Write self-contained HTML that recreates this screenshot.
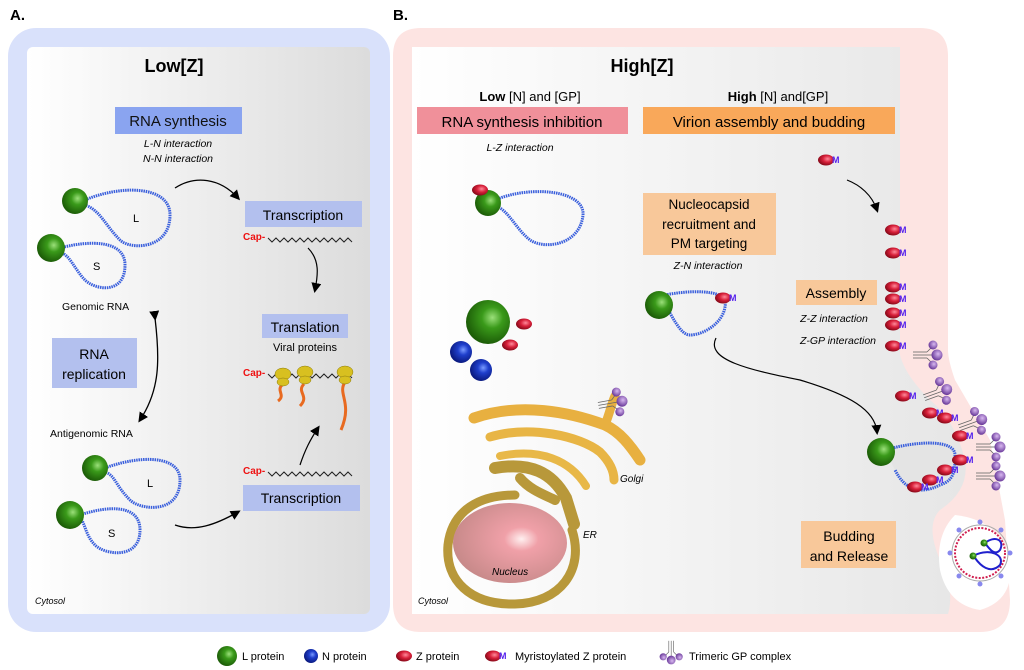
<!DOCTYPE html>
<html><head><meta charset="utf-8"><style>
html,body{margin:0;padding:0;background:#fff}
svg{display:block;font-family:"Liberation Sans",sans-serif}
</style></head><body>
<svg width="1024" height="670" viewBox="0 0 1024 670" xmlns="http://www.w3.org/2000/svg">
<defs>
<linearGradient id="gA" x1="0" x2="1"><stop offset="0" stop-color="#ffffff"/><stop offset="1" stop-color="#dcdcdc"/></linearGradient>
<linearGradient id="gB" x1="0" x2="1"><stop offset="0" stop-color="#ffffff"/><stop offset="1" stop-color="#e6e6e6"/></linearGradient>
<radialGradient id="gG" cx="0.6" cy="0.4" r="0.6"><stop offset="0" stop-color="#9be07a"/><stop offset="0.4" stop-color="#3a9a1a"/><stop offset="1" stop-color="#1d5e08"/></radialGradient>
<radialGradient id="gN" cx="0.6" cy="0.4" r="0.6"><stop offset="0" stop-color="#7a9bff"/><stop offset="0.4" stop-color="#1f3fcc"/><stop offset="1" stop-color="#0a1a80"/></radialGradient>
<radialGradient id="gR" cx="0.6" cy="0.4" r="0.6"><stop offset="0" stop-color="#ff8a9a"/><stop offset="0.5" stop-color="#d8203a"/><stop offset="1" stop-color="#8a0a1a"/></radialGradient>
<radialGradient id="gNuc" cx="0.6" cy="0.45" r="0.6"><stop offset="0" stop-color="#fff0f0"/><stop offset="0.25" stop-color="#f0a0a8"/><stop offset="1" stop-color="#c88a8a"/></radialGradient>
<radialGradient id="gP" cx="0.6" cy="0.4" r="0.6"><stop offset="0" stop-color="#d8b8f0"/><stop offset="1" stop-color="#6a3a9a"/></radialGradient>
<marker id="ar" markerWidth="10" markerHeight="10" refX="7" refY="5" orient="auto" markerUnits="userSpaceOnUse"><path d="M0,0 L10,5 L0,10 z" fill="#000"/></marker>
<g id="z"><ellipse cx="0" cy="0" rx="8" ry="5.5" fill="url(#gR)"/></g>
<g id="zm"><ellipse cx="0" cy="0" rx="8" ry="5.5" fill="url(#gR)"/><text x="6" y="3" font-size="9" font-weight="bold" fill="#5522ee">M</text></g>
<g id="gp"><g stroke="#666" stroke-width="0.8"><line x1="-14" y1="-2" x2="0" y2="-2"/><line x1="-14" y1="1" x2="0" y2="1"/><line x1="-14" y1="4" x2="0" y2="4"/><line x1="0" y1="-2" x2="6" y2="-8"/><line x1="0" y1="1" x2="8" y2="1"/><line x1="0" y1="4" x2="6" y2="10"/></g><circle cx="6" cy="-9" r="4.5" fill="url(#gP)"/><circle cx="10" cy="1" r="5.5" fill="url(#gP)"/><circle cx="6" cy="11" r="4.5" fill="url(#gP)"/></g>
</defs>

<!-- Panel A -->
<text x="10" y="20" font-size="15" font-weight="bold">A.</text>
<rect x="8" y="28" width="382" height="604" rx="28" fill="#d9e1fb"/>
<rect x="27" y="47" width="343" height="567" rx="6" fill="url(#gA)"/>
<text x="174" y="72" font-size="18" font-weight="bold" text-anchor="middle">Low[Z]</text>
<rect x="115" y="107" width="127" height="27" fill="#8aa4f0"/>
<text x="178" y="126" font-size="15" text-anchor="middle" fill="#111">RNA synthesis</text>
<text x="178" y="147" font-size="10.5" font-style="italic" text-anchor="middle">L-N interaction</text>
<text x="178" y="162" font-size="10.5" font-style="italic" text-anchor="middle">N-N interaction</text>

<g fill="none" stroke="#3a5fdc" stroke-width="3" stroke-dasharray="1.5 0.8">
<path d="M85,200 C120,185 170,185 170,215 C170,250 130,250 120,240 C105,225 100,210 85,205"/>
<path d="M60,248 C90,240 125,240 125,265 C125,295 95,290 85,280 C75,270 70,255 60,252"/>
<path d="M105,468 C140,455 180,455 180,480 C180,515 140,510 130,500 C115,485 115,475 105,472"/>
<path d="M80,515 C110,505 140,505 140,530 C140,560 105,555 95,545 C85,535 85,522 80,518"/>
</g>
<circle cx="75" cy="201" r="13" fill="url(#gG)"/>
<circle cx="51" cy="248" r="14" fill="url(#gG)"/>
<circle cx="95" cy="468" r="13" fill="url(#gG)"/>
<circle cx="70" cy="515" r="14" fill="url(#gG)"/>
<text x="133" y="222" font-size="11">L</text>
<text x="93" y="270" font-size="11">S</text>
<text x="147" y="487" font-size="11">L</text>
<text x="108" y="537" font-size="11">S</text>
<text x="62" y="310" font-size="10.5">Genomic RNA</text>
<text x="50" y="437" font-size="10.5">Antigenomic RNA</text>
<rect x="52" y="338" width="85" height="50" fill="#b3c0ee"/>
<text x="94" y="359" font-size="14" text-anchor="middle">RNA</text>
<text x="94" y="379" font-size="14" text-anchor="middle">replication</text>
<path d="M155,318 C160,360 160,390 140,420" fill="none" stroke="#000" stroke-width="1.3" marker-end="url(#ar)" marker-start="url(#ar)"/>

<path d="M175,188 C195,175 220,178 238,198" fill="none" stroke="#000" stroke-width="1.3" marker-end="url(#ar)"/>
<rect x="245" y="201" width="117" height="26" fill="#b3c0ee"/>
<text x="303" y="220" font-size="14" text-anchor="middle">Transcription</text>
<text x="243" y="240" font-size="10" font-weight="bold" fill="#ee1111">Cap-</text>
<path d="M268,238 l4,4 l4,-4 l4,4 l4,-4 l4,4 l4,-4 l4,4 l4,-4 l4,4 l4,-4 l4,4 l4,-4 l4,4 l4,-4 l4,4 l4,-4 l4,4 l4,-4 l4,4 l4,-4 l4,4" fill="none" stroke="#222" stroke-width="1"/>
<path d="M308,248 C320,260 318,275 315,290" fill="none" stroke="#000" stroke-width="1.2" marker-end="url(#ar)"/>
<rect x="262" y="314" width="86" height="24" fill="#b3c0ee"/>
<text x="305" y="332" font-size="14" text-anchor="middle">Translation</text>
<text x="305" y="351" font-size="11" text-anchor="middle">Viral proteins</text>
<text x="243" y="376" font-size="10" font-weight="bold" fill="#ee1111">Cap-</text>
<path d="M268,374 l4,4 l4,-4 l4,4 l4,-4 l4,4 l4,-4 l4,4 l4,-4 l4,4 l4,-4 l4,4 l4,-4 l4,4 l4,-4 l4,4 l4,-4 l4,4 l4,-4 l4,4 l4,-4 l4,4" fill="none" stroke="#222" stroke-width="1"/>
<g fill="none" stroke="#e86a20" stroke-width="3"><path d="M282,385 c-6,6 4,10 -4,16"/><path d="M304,384 c-8,8 6,12 -4,22"/><path d="M345,382 c-8,12 8,20 -4,48"/></g>
<g fill="#d8c020" stroke="#8a7a10" stroke-width="0.5"><ellipse cx="283" cy="374" rx="8" ry="6"/><ellipse cx="305" cy="372" rx="8" ry="6"/><ellipse cx="345" cy="372" rx="8" ry="6"/><ellipse cx="283" cy="382" rx="6" ry="4"/><ellipse cx="305" cy="380" rx="6" ry="4"/><ellipse cx="345" cy="380" rx="6" ry="4"/></g>
<text x="243" y="474" font-size="10" font-weight="bold" fill="#ee1111">Cap-</text>
<path d="M268,472 l4,4 l4,-4 l4,4 l4,-4 l4,4 l4,-4 l4,4 l4,-4 l4,4 l4,-4 l4,4 l4,-4 l4,4 l4,-4 l4,4 l4,-4 l4,4 l4,-4 l4,4 l4,-4 l4,4" fill="none" stroke="#222" stroke-width="1"/>
<path d="M300,465 C305,450 310,440 318,428" fill="none" stroke="#000" stroke-width="1.2" marker-end="url(#ar)"/>
<path d="M175,525 C195,532 215,525 238,512" fill="none" stroke="#000" stroke-width="1.3" marker-end="url(#ar)"/>
<rect x="243" y="485" width="117" height="26" fill="#b3c0ee"/>
<text x="301" y="503" font-size="14" text-anchor="middle">Transcription</text>
<text x="35" y="604" font-size="9" font-style="italic">Cytosol</text>

<!-- Panel B -->
<text x="393" y="20" font-size="15" font-weight="bold">B.</text>
<path d="M421,28 H920 Q948,28 948,56 V350 Q948,360 955,380 L990,440 L1005,520 L1010,600 Q1010,632 980,632 H421 Q393,632 393,604 V56 Q393,28 421,28 Z" fill="#fde4e2"/>
<path d="M412,47 H900 V355 Q905,375 930,400 Q955,420 965,460 Q970,490 940,510 Q925,525 940,560 Q955,590 948,614 H412 Z" fill="url(#gB)"/>
<path d="M955,515 Q1000,520 1010,560 Q1015,600 980,610 Q948,605 940,570 Q935,535 955,515 Z" fill="#fff"/>
<text x="642" y="72" font-size="18" font-weight="bold" text-anchor="middle">High[Z]</text>
<text x="530" y="101" font-size="13" text-anchor="middle"><tspan font-weight="bold">Low</tspan> [N] and [GP]</text>
<rect x="417" y="107" width="211" height="27" fill="#f0909a"/>
<text x="522" y="127" font-size="15" text-anchor="middle">RNA synthesis inhibition</text>
<text x="520" y="151" font-size="10.5" font-style="italic" text-anchor="middle">L-Z interaction</text>
<text x="778" y="101" font-size="13" text-anchor="middle"><tspan font-weight="bold">High</tspan> [N] and[GP]</text>
<rect x="643" y="107" width="252" height="27" fill="#f9a85a"/>
<text x="769" y="127" font-size="15" text-anchor="middle">Virion assembly and budding</text>

<path d="M495,200 C530,185 585,190 583,215 C580,245 545,250 530,240 C515,228 510,212 495,205" fill="none" stroke="#3a5fdc" stroke-width="3" stroke-dasharray="1.5 0.8"/>
<circle cx="488" cy="203" r="13" fill="url(#gG)"/>
<use href="#z" x="480" y="190"/>
<circle cx="488" cy="322" r="22" fill="url(#gG)"/>
<use href="#z" x="524" y="324"/><use href="#z" x="510" y="345"/>
<circle cx="461" cy="352" r="11" fill="url(#gN)"/>
<circle cx="481" cy="370" r="11" fill="url(#gN)"/>

<!-- Golgi/ER -->
<g fill="none" stroke-linecap="round">
<path d="M474,418 C520,402 570,412 605,425 C620,432 630,445 640,460" stroke="#e8b040" stroke-width="11"/>
<path d="M605,425 C610,412 612,402 615,396" stroke="#e8b040" stroke-width="9"/>
<path d="M490,437 C530,425 580,436 600,452 C610,462 614,472 614,480" stroke="#e8b545" stroke-width="9"/>
<path d="M500,456 C540,448 570,460 586,486" stroke="#e8b848" stroke-width="8"/>
<path d="M495,468 C530,462 552,472 566,498 L574,524" stroke="#b8983a" stroke-width="12"/>
<path d="M520,478 C530,490 545,495 555,500" stroke="#b8983a" stroke-width="10"/>
<path d="M572,530 C585,570 560,603 515,604 C470,605 445,580 448,545 C452,510 480,495 515,495" stroke="#b8983a" stroke-width="9"/>
</g>
<ellipse cx="510" cy="543" rx="57" ry="40" fill="url(#gNuc)"/>
<text x="492" y="575" font-size="10" font-style="italic">Nucleus</text>
<text x="583" y="538" font-size="10" font-style="italic">ER</text>
<text x="620" y="482" font-size="10" font-style="italic">Golgi</text>
<use href="#gp" x="612" y="402" transform="rotate(-10 612 402)"/>
<text x="418" y="604" font-size="9" font-style="italic">Cytosol</text>

<!-- right side -->
<rect x="643" y="193" width="133" height="62" fill="#f8c89a"/>
<text x="709" y="209" font-size="13.5" text-anchor="middle">Nucleocapsid</text>
<text x="709" y="229" font-size="13.5" text-anchor="middle">recruitment and</text>
<text x="709" y="248" font-size="13.5" text-anchor="middle">PM targeting</text>
<text x="708" y="269" font-size="10.5" font-style="italic" text-anchor="middle">Z-N interaction</text>
<path d="M665,295 C690,290 720,290 725,300 C728,320 705,335 690,335 C680,335 672,315 665,305" fill="none" stroke="#3a5fdc" stroke-width="3" stroke-dasharray="1.5 0.8"/>
<circle cx="659" cy="305" r="14" fill="url(#gG)"/>
<use href="#zm" x="723" y="298"/>
<path d="M716,338 C705,360 750,370 800,380 C850,395 875,410 877,432" fill="none" stroke="#000" stroke-width="1.2" marker-end="url(#ar)"/>
<use href="#zm" x="826" y="160"/>
<path d="M847,180 C860,185 872,195 877,210" fill="none" stroke="#000" stroke-width="1.2" marker-end="url(#ar)"/>
<use href="#zm" x="893" y="230"/><use href="#zm" x="893" y="253"/>
<use href="#zm" x="893" y="287"/><use href="#zm" x="893" y="299"/>
<use href="#zm" x="893" y="313"/><use href="#zm" x="893" y="325"/>
<use href="#zm" x="893" y="346"/>
<rect x="796" y="280" width="81" height="25" fill="#f8c89a"/>
<text x="836" y="298" font-size="14" text-anchor="middle">Assembly</text>
<text x="834" y="322" font-size="10.5" font-style="italic" text-anchor="middle">Z-Z interaction</text>
<text x="838" y="344" font-size="10.5" font-style="italic" text-anchor="middle">Z-GP interaction</text>
<use href="#gp" x="927" y="354"/><use href="#gp" x="937" y="392" transform="rotate(-20 937 392)"/>
<use href="#gp" x="972" y="422" transform="rotate(-20 972 422)"/><use href="#gp" x="990" y="446"/><use href="#gp" x="990" y="475"/>
<use href="#zm" x="903" y="396"/><use href="#zm" x="930" y="413"/><use href="#zm" x="945" y="418"/>
<path d="M885,450 C920,440 955,440 955,455 C955,470 955,480 940,485 C920,495 905,490 895,470" fill="#e4e4e4" stroke="#3a5fdc" stroke-width="3" stroke-dasharray="1.5 0.8"/>
<circle cx="881" cy="452" r="14" fill="url(#gG)"/>
<use href="#zm" x="960" y="436"/><use href="#zm" x="960" y="460"/><use href="#zm" x="945" y="470"/><use href="#zm" x="930" y="480"/><use href="#zm" x="915" y="487"/>
<rect x="801" y="521" width="95" height="47" fill="#f8c89a"/>
<text x="849" y="541" font-size="14" text-anchor="middle">Budding</text>
<text x="849" y="561" font-size="14" text-anchor="middle">and Release</text>
<circle cx="980" cy="553" r="25" fill="none" stroke="#d02050" stroke-width="2" stroke-dasharray="2 1.5"/>
<circle cx="980" cy="553" r="28" fill="none" stroke="#aaa" stroke-width="1"/>
<g fill="#8888ee"><circle cx="980" cy="522" r="2.5"/><circle cx="1001" cy="530" r="2.5"/><circle cx="1010" cy="553" r="2.5"/><circle cx="1001" cy="576" r="2.5"/><circle cx="980" cy="584" r="2.5"/><circle cx="959" cy="576" r="2.5"/><circle cx="950" cy="553" r="2.5"/><circle cx="959" cy="530" r="2.5"/></g>
<path d="M985,543 C995,535 1005,540 1000,550 C995,556 990,550 985,543 M975,555 C990,548 1005,555 1000,565 C990,575 980,565 975,558" fill="none" stroke="#2020cc" stroke-width="2"/>
<circle cx="984" cy="543" r="3.5" fill="url(#gG)"/><circle cx="973" cy="556" r="3.5" fill="url(#gG)"/>

<!-- Legend -->
<circle cx="227" cy="656" r="10" fill="url(#gG)"/>
<text x="242" y="660" font-size="11">L protein</text>
<circle cx="311" cy="656" r="7" fill="url(#gN)"/>
<text x="322" y="660" font-size="11">N protein</text>
<use href="#z" x="404" y="656"/>
<text x="416" y="660" font-size="11">Z protein</text>
<use href="#zm" x="493" y="656"/>
<text x="515" y="660" font-size="11">Myristoylated Z protein</text>
<g transform="translate(672,652) rotate(90) scale(0.8)"><use href="#gp"/></g>
<text x="689" y="660" font-size="11">Trimeric GP complex</text>
</svg>
</body></html>
